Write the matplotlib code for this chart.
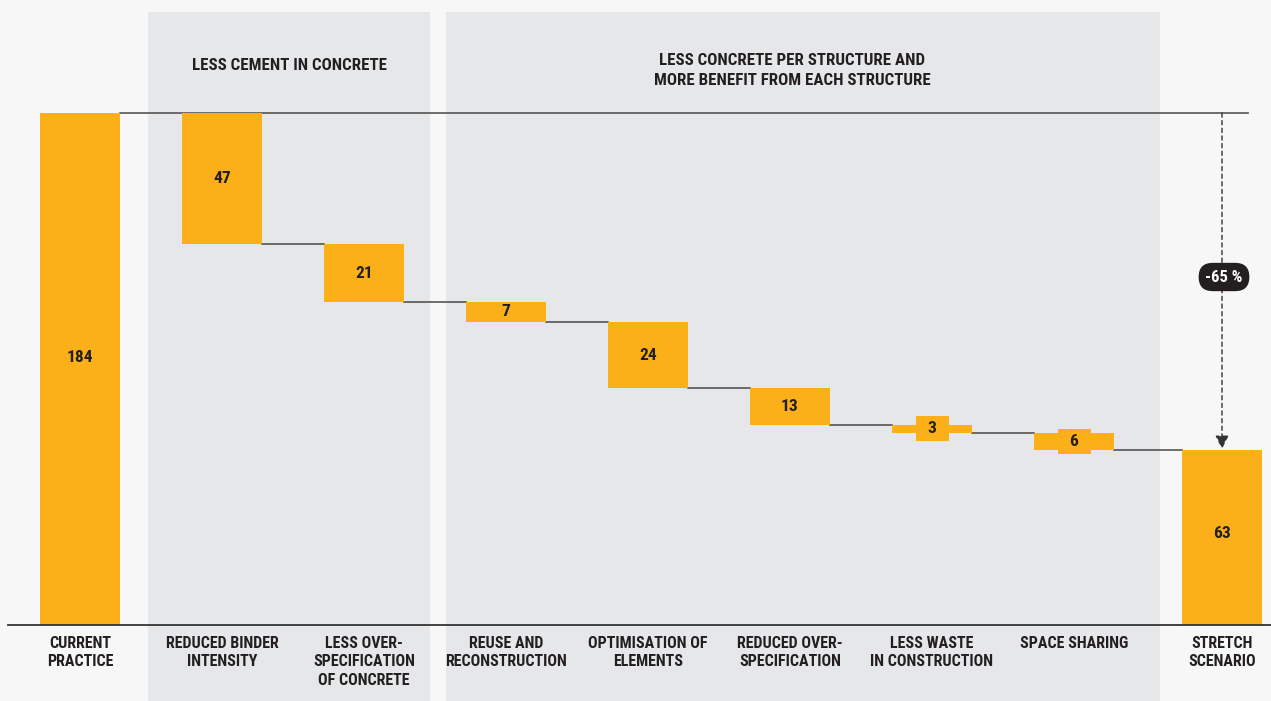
import matplotlib
matplotlib.use("Agg")
import matplotlib.pyplot as plt
from matplotlib.patches import Rectangle
import numpy as np

categories = ["CURRENT\nPRACTICE", "REDUCED BINDER\nINTENSITY", "LESS OVER-\nSPECIFICATION\nOF CONCRETE",
              "REUSE AND\nRECONSTRUCTION", "OPTIMISATION OF\nELEMENTS", "REDUCED OVER-\nSPECIFICATION",
              "LESS WASTE\nIN CONSTRUCTION", "SPACE SHARING", "STRETCH\nSCENARIO"]
start_value = 184
reductions = [47, 21, 7, 24, 13, 3, 6]
end_value = 63
group_titles = ["LESS CEMENT IN CONCRETE", "LESS CONCRETE PER STRUCTURE AND\nMORE BENEFIT FROM EACH STRUCTURE"]
change_label = "-65 %"

ORANGE = "#FBB01A"
BG = "#F7F7F7"
PANEL = "#E6E7E9"
TXT = "#231F20"
FONT = ["Roboto Condensed", "IBM Plex Sans Condensed", "DejaVu Sans"]
plt.rcParams["font.family"] = FONT

W, H = 1271, 701
fig = plt.figure(figsize=(W / 100, H / 100), dpi=100, facecolor=BG)
ax = fig.add_axes([0, 0, 1, 1])
ax.set_facecolor(BG)

# pixel mapping
px_step = 142.0
x0px = 80
ypx0, ypx_top = 625, 113
upp = start_value / (ypx0 - ypx_top)
def xd(px):
    return (px - x0px) / px_step
def yd(py):
    return (ypx0 - py) * upp

ax.set_xlim(xd(0), xd(W))
ax.set_ylim(yd(H), yd(0))
ax.axis("off")

# panels
for (l, r) in [(148, 430), (446, 1160)]:
    ax.add_patch(Rectangle((xd(l), yd(H)), xd(r) - xd(l), yd(12) - yd(H),
                           facecolor=PANEL, edgecolor="none", zorder=0))

ax.text(xd(289.5), yd(65), group_titles[0], ha="center", va="center",
        fontsize=12.2, fontweight="bold", color=TXT)
ax.text(xd(792), yd(70.5), group_titles[1], ha="center", va="center",
        fontsize=12.2, fontweight="bold", color=TXT, linespacing=1.45)

bw = 80 / px_step
xs = np.arange(len(categories), dtype=float)
xs[-1] += 6 / px_step

# running totals
levels = [start_value]
for r in reductions:
    levels.append(levels[-1] - r)

# baseline and top line
ax.plot([xd(8), xd(W)], [0, 0], color="#333333", lw=1.3, zorder=3)
ax.plot([xs[0] + bw / 2, xd(1248)], [start_value, start_value], color="#555555", lw=1.2, zorder=1)

LBL = dict(ha="center", va="center", fontsize=12.5, fontweight="bold", color=TXT, zorder=4)

# bars
ax.bar(xs[0], start_value, width=bw, color=ORANGE, zorder=2)
ax.text(xs[0], start_value / 2 + 12 * upp, str(start_value), **LBL)
for i, r in enumerate(reductions):
    x = xs[i + 1]
    bottom = levels[i + 1]
    ax.bar(x, r, bottom=bottom, width=bw, color=ORANGE, zorder=2)
    mid = bottom + r / 2
    if r <= 6:
        bwid, bhgt = 33 / px_step, 25 * upp
        ax.add_patch(Rectangle((x - bwid / 2, mid - bhgt / 2), bwid, bhgt,
                               facecolor=ORANGE, edgecolor="none", zorder=3))
    ax.text(x, mid, str(r), **LBL)
    # connector to next bar
    nx = xs[i + 2]
    ax.plot([x + bw / 2, nx - bw / 2], [bottom, bottom], color="#555555", lw=1.2, zorder=1)

ax.bar(xs[-1], end_value, width=bw, color=ORANGE, zorder=2)
ax.text(xs[-1], end_value / 2 + 4 * upp, str(end_value), **LBL)

# category labels
for x, c in zip(xs, categories):
    ax.text(x, yd(636), c, ha="center", va="top", fontsize=11.5, fontweight="bold",
            color=TXT, linespacing=1.28)

# change arrow
ax_x = xs[-1]
ax.annotate("", xy=(ax_x, end_value + 0.3), xytext=(ax_x, start_value),
            arrowprops=dict(arrowstyle="-|>,head_width=0.4,head_length=0.8", color="#333333",
                            lw=1.0, linestyle=(0, (3, 2.5)), shrinkA=0, shrinkB=0), zorder=3)
ax.text(ax_x + 2 / px_step, yd(277), change_label, ha="center", va="center",
        fontsize=12, fontweight="bold", color="white", zorder=5,
        bbox=dict(boxstyle="round,pad=0.4,rounding_size=0.85", facecolor="#231F20", edgecolor="none"))

fig.savefig("out.png", dpi=100, facecolor=BG)
